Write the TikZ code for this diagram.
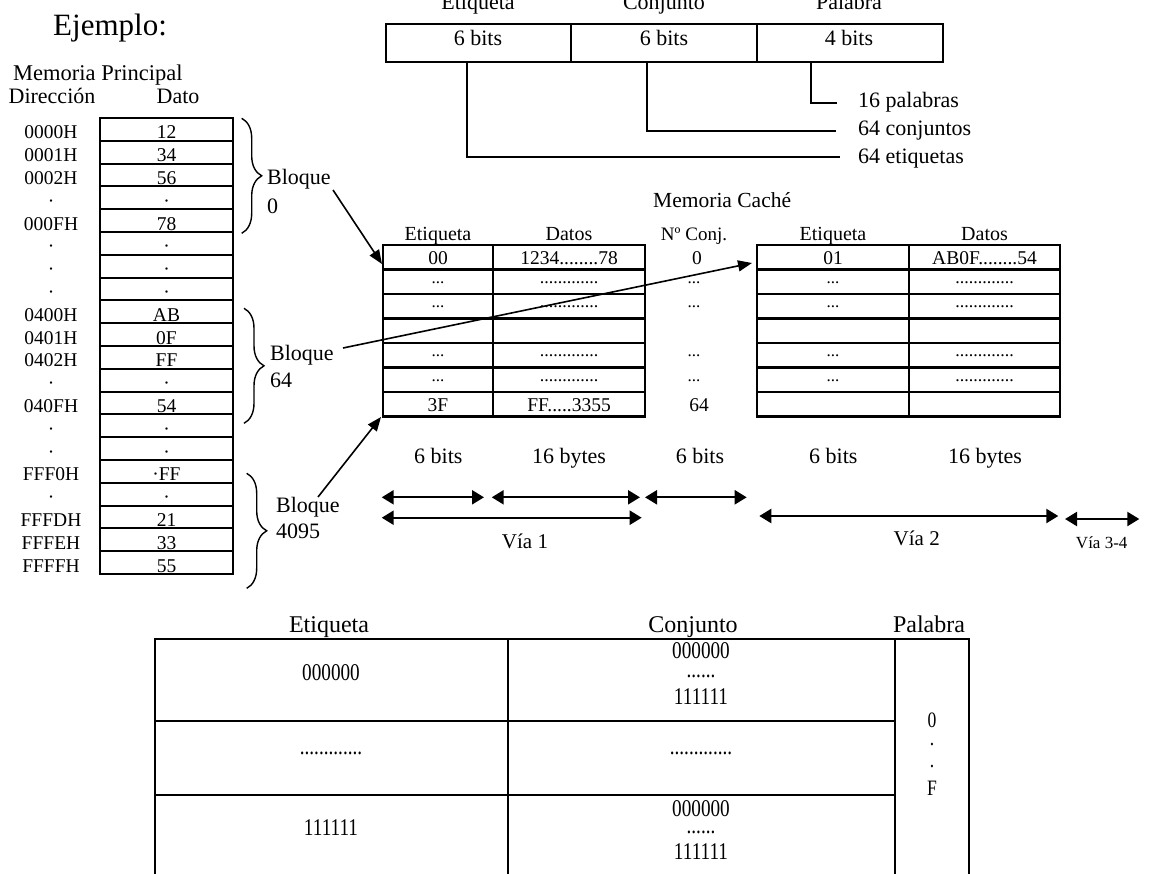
\documentclass[tikz,border=0pt]{standalone}
\usepackage{fontspec}
\setmainfont{Liberation Serif}
\newfontfamily\tallfont[FakeStretch=0.8]{Liberation Serif}
\usetikzlibrary{arrows.meta,decorations.pathreplacing}
\newcommand\fsz[1]{\fontsize{#1}{#1}\selectfont}
\newcommand\tsz[1]{\tallfont\fontsize{#1}{#1}\selectfont}
\begin{document}
\begin{tikzpicture}[x=1pt,y=-1pt,
  every node/.style={inner sep=0pt},
  tx/.style={anchor=base},
  txw/.style={anchor=base west},
  ln/.style={line width=2.1pt},
  cn/.style={line width=1.9pt},
  brc/.style={line width=1.4pt, decorate, decoration={brace, amplitude=20pt}},
  parr/.style={line width=1.6pt, -{Triangle[length=14pt,width=11pt]}},
  darr/.style={line width=2.3pt, {Triangle[length=12pt,width=14pt]}-{Triangle[length=12pt,width=14pt]}},
]
\useasboundingbox (0,0) rectangle (1150,873);
\clip (0,0) rectangle (1150,873);

% ---------- title ----------
\node[txw, font=\fsz{31}] (title) at (53,35) {Ejemplo:};
\node[txw, font=\fsz{22.5}] (mp) at (13,80) {Memoria Principal};
\node[tx, font=\fsz{22}] (dir) at (52,103) {Dirección};
\node[tx, font=\fsz{22}] (dato) at (178,103) {Dato};

% ---------- main memory ----------
\draw[ln] (100,118) rectangle (233,574);
\foreach \k in {1,...,19} {
  \pgfmathsetmacro\yy{118+22.8*\k}
  \draw[ln] (100,\yy) -- (233,\yy);
}
\foreach \a/\d [count=\i from 0] in {0000H/12, 0001H/34, 0002H/56, ·/·, 000FH/78, ·/·, ·/·, ·/·, 0400H/AB, 0401H/0F, 0402H/FF, ·/·, 040FH/54, ·/·, ·/·, FFF0H/·FF, ·/·, FFFDH/21, FFFEH/33, FFFFH/55} {
  \pgfmathsetmacro\yb{118+22.8*(\i+1)-2}
  \node[tx, font=\fsz{19.5}] (ad\i) at (51,\yb) {\a};
  \node[tx, font=\fsz{19.5}] (dt\i) at (166.5,\yb) {\d};
}

% ---------- braces ----------
\draw[brc] (241.7,118.3) -- (241.7,233.3);
\draw[brc] (244,308.3) -- (244,423.3);
\draw[brc] (246.7,473.3) -- (246.7,588.3);
\node[txw, font=\fsz{22}] (bq0) at (267,184) {Bloque};
\node[txw, font=\fsz{22}] (bq0n) at (267,213) {0};
\node[txw, font=\fsz{22}] (bq1) at (270,360) {Bloque};
\node[txw, font=\fsz{22}] (bq1n) at (270,387) {64};
\node[txw, font=\fsz{22}] (bq2) at (276,512) {Bloque};
\node[txw, font=\fsz{22}] (bq2n) at (276,538) {4095};

% ---------- address format box ----------
\draw[ln] (385.7,24.3) rectangle (942.7,61.7);
\draw[ln] (571,24.3) -- (571,61.7);
\draw[ln] (756.7,24.3) -- (756.7,61.7);
\node[tx, font=\fsz{22}] (hEt) at (478,9) {Etiqueta};
\node[tx, font=\fsz{22}] (hCo) at (664,9) {Conjunto};
\node[tx, font=\fsz{22}] (hPa) at (849,9) {Palabra};
\node[tx, font=\fsz{22}] (fEt) at (478,45.5) {6 bits};
\node[tx, font=\fsz{22}] (fCo) at (664,45.5) {6 bits};
\node[tx, font=\fsz{22}] (fPa) at (849,45.5) {4 bits};
\node[txw, font=\fsz{22}] (lPa) at (858,107) {16 palabras};
\node[txw, font=\fsz{22}] (lCo) at (858,135) {64 conjuntos};
\node[txw, font=\fsz{22}] (lEt) at (858,163) {64 etiquetas};
\coordinate (cEt) at (467.3,61.7);
\coordinate (cCo) at (647.3,61.7);
\coordinate (cPa) at (810.7,61.7);
\coordinate (eEt) at (840,157.3);
\coordinate (eCo) at (836,130.7);
\coordinate (ePa) at (836.7,103.3);
\draw[cn] (cEt) |- (eEt);
\draw[cn] (cCo) |- (eCo);
\draw[cn] (cPa) |- (ePa);

% ---------- cache ----------
\node[txw, font=\fsz{21.5}] (mc) at (653,207) {Memoria Caché};
\node[tx, font=\fsz{20}] (c1h1) at (438,240) {Etiqueta};
\node[tx, font=\fsz{20}] (c1h2) at (569,240) {Datos};
\node[tx, font=\fsz{19}] (cnh) at (694,240) {Nº Conj.};
\node[tx, font=\fsz{20}] (c2h1) at (833,240) {Etiqueta};
\node[tx, font=\fsz{20}] (c2h2) at (984.5,240) {Datos};

\draw[ln] (383,245) rectangle (645,416.5);
\draw[ln] (493,245) -- (493,416.5);
\draw[ln] (757,245) rectangle (1060,416.5);
\draw[ln] (909,245) -- (909,416.5);
\foreach \k in {1,...,6} {
  \pgfmathsetmacro\yy{245+24.5*\k}
  \draw[ln] (383,\yy) -- (645,\yy);
  \draw[ln] (757,\yy) -- (1060,\yy);
}
% first row
\node[tx, font=\fsz{19.5}] (r0a) at (438,264.5) {00};
\node[tx, font=\fsz{19.5}] (r0b) at (569,264.5) {1234........78};
\node[tx, font=\fsz{19.5}] (r0c) at (697,264.5) {0};
\node[tx, font=\fsz{19.5}] (r0d) at (833,264.5) {01};
\node[tx, font=\fsz{19.5}] (r0e) at (984.5,264.5) {AB0F........54};
% dotted rows
\foreach \i in {1,2,4,5} {
  \pgfmathsetmacro\yb{245+24.5*(\i+1)-11}
  \node[tx, font=\fsz{17}] (ra\i) at (438,\yb) {...};
  \node[tx, font=\fsz{18}] (rb\i) at (569,\yb) {.............};
  \node[tx, font=\fsz{17}] (rc\i) at (694,\yb) {...};
  \node[tx, font=\fsz{17}] (rd\i) at (833,\yb) {...};
  \node[tx, font=\fsz{18}] (re\i) at (984.5,\yb) {.............};
}
% last row
\node[tx, font=\fsz{19.5}] (r6a) at (438,411) {3F};
\node[tx, font=\fsz{19.5}] (r6b) at (569,411) {FF.....3355};
\node[tx, font=\fsz{19.5}] (r6c) at (699,411) {64};

% ---------- block arrows ----------
\coordinate (s0) at (333,190);
\coordinate (t0) at (382,264);
\coordinate (s1) at (343,348);
\coordinate (t1) at (752,263);
\coordinate (s2) at (318,497);
\coordinate (t2) at (381,417);
\draw[parr] (s0) -- (t0);
\draw[parr] (s1) -- (t1);
\draw[parr] (s2) -- (t2);

% ---------- widths / ways ----------
\node[tx, font=\fsz{22}] (w1) at (438.3,463) {6 bits};
\node[tx, font=\fsz{22}] (w2) at (569,463) {16 bytes};
\node[tx, font=\fsz{22}] (w3) at (700,463) {6 bits};
\node[tx, font=\fsz{22}] (w4) at (833.3,463) {6 bits};
\node[tx, font=\fsz{22}] (w5) at (985,463) {16 bytes};
\coordinate (a1l) at (381.7,497.3); \coordinate (a1r) at (484,497.3);
\coordinate (a2l) at (491.7,497.3); \coordinate (a2r) at (640,497.3);
\coordinate (a3l) at (645,497.3);   \coordinate (a3r) at (746.7,497.3);
\coordinate (v1l) at (381.7,517.7); \coordinate (v1r) at (641.7,517.7);
\coordinate (v2l) at (759.3,516);   \coordinate (v2r) at (1058.3,516);
\coordinate (v3l) at (1065,519);    \coordinate (v3r) at (1139.3,519);
\draw[darr] (a1l) -- (a1r);
\draw[darr] (a2l) -- (a2r);
\draw[darr] (a3l) -- (a3r);
\draw[darr] (v1l) -- (v1r);
\draw[darr] (v2l) -- (v2r);
\draw[darr] (v3l) -- (v3r);
\node[tx, font=\fsz{21}] (via1) at (525,548) {Vía 1};
\node[tx, font=\fsz{21}] (via2) at (916.7,545) {Vía 2};
\node[tx, font=\fsz{17}] (via3) at (1101.7,548) {Vía 3-4};

% ---------- bottom table ----------
\node[tx, font=\fsz{24}] (bEt) at (329,632) {Etiqueta};
\node[tx, font=\fsz{24}] (bCo) at (693,632) {Conjunto};
\node[tx, font=\fsz{24}] (bPa) at (929,632) {Palabra};
\draw[ln] (155,880) -- (155,639) -- (969,639) -- (969,880);
\draw[ln] (508,639) -- (508,880);
\draw[ln] (895,639) -- (895,880);
\draw[ln] (155,721) -- (895,721);
\draw[ln] (155,795) -- (895,795);
\node[font=\tsz{24}] (t1a) at (331,673) {000000};
\node[font=\tsz{24}] (t1b) at (701,650.7) {000000};
\node[tx, font=\tsz{24}] (t1c) at (701,677) {......};
\node[font=\tsz{24}] (t1d) at (701,696.7) {111111};
\node[tx, font=\tsz{24}] (t2a) at (331,754) {.............};
\node[tx, font=\tsz{24}] (t2b) at (701,754) {.............};
\node[font=\tsz{24}] (t3a) at (331,828) {111111};
\node[font=\tsz{24}] (t3b) at (701,808.3) {000000};
\node[tx, font=\tsz{24}] (t3c) at (701,833) {......};
\node[font=\tsz{24}] (t3d) at (701,851.7) {111111};
\node[font=\tsz{22}] (p0) at (932,720) {0};
\node[tx, font=\tsz{22}] (p1) at (932,745) {.};
\node[tx, font=\tsz{22}] (p2) at (932,767) {.};
\node[font=\tsz{22}] (p3) at (932,788) {F};
\end{tikzpicture}
\end{document}
